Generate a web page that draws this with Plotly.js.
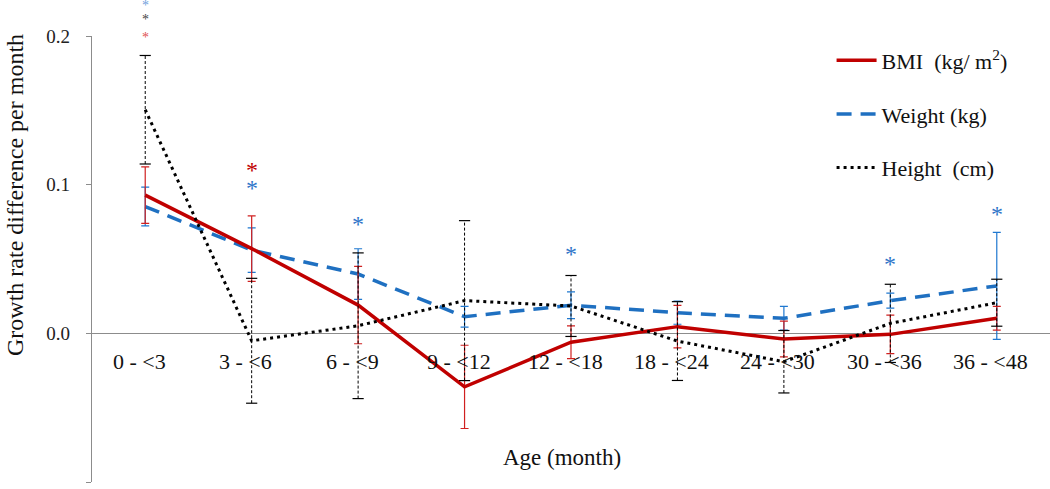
<!DOCTYPE html>
<html>
<head>
<meta charset="utf-8">
<script src="https://cdn.plot.ly/plotly-3.0.1.min.js"></script>
<style>html,body{margin:0;padding:0;background:#fff;}#chart{width:1050px;height:489px;}</style>
</head>
<body>
<div id="chart"></div>
<script>
// ---- data ----
const ageGroups = ['0 - <3', '3 - <6', '6 - <9', '9 - <12', '12 - <18', '18 - <24', '24 - <30', '30 - <36', '36 - <48'];
const bmiValues = [0.093, 0.057, 0.019, -0.036, -0.006, 0.0045, -0.0038, -0.0007, 0.0101];
const bmiErrors = [0.019, 0.022, 0.026, 0.028, 0.011, 0.0143, 0.012, 0.013, 0.008];
const weightValues = [0.0853, 0.056, 0.0399, 0.0112, 0.0189, 0.0139, 0.0101, 0.022, 0.0319];
const weightErrors = [0.013, 0.015, 0.017, 0.007, 0.009, 0.0078, 0.008, 0.005, 0.036];
const heightValues = [0.1504, -0.005, 0.0051, 0.022, 0.0184, -0.0052, -0.0191, 0.0067, 0.0206];
const heightErrors = [0.0365, 0.042, 0.049, 0.0538, 0.0205, 0.0265, 0.021, 0.0263, 0.0158];
const seriesNames = ['BMI&#160;&#160;(kg/ m<sup>2</sup>)', 'Weight&#160;(kg)', 'Height&#160;&#160;(cm)'];
const yTicks = [-0.1, 0.0, 0.1, 0.2];
const yRange = [-0.1, 0.2];
// significance asterisks
const sigCats = ['0 - <3', '0 - <3', '0 - <3', '3 - <6', '3 - <6', '6 - <9', '12 - <18', '30 - <36', '36 - <48'];
const sigY = [0.2203, 0.2113, 0.1993, 0.110, 0.098, 0.0736, 0.0534, 0.0467, 0.0804];
const sigColors = ['#6FA0DC', '#444444', '#E05050', '#C00000', '#2E75C8', '#2E75C8', '#2E75C8', '#2E75C8', '#2E75C8'];
const sigSizes = [14, 14, 14, 24, 24, 24, 24, 24, 24];

const FONT = 'Liberation Serif';
const RED = '#C00000', BLUE = '#1F70C1', BLACK = '#000000';

// black dashed error bars built from data
const hbX = [], hbY = [], capX = [], capY = [];
ageGroups.forEach((c, i) => {
  hbX.push(c, c, null);
  hbY.push(heightValues[i] - heightErrors[i], heightValues[i] + heightErrors[i], null);
  capX.push(c, c);
  capY.push(heightValues[i] - heightErrors[i], heightValues[i] + heightErrors[i]);
});

const traces = [
  {x: ageGroups, y: weightValues, type: 'scatter', mode: 'lines', name: seriesNames[1], legendgroup: 'w', legendrank: 2,
   line: {color: BLUE, width: 3.5, dash: '15px,9px'},
   error_y: {type: 'data', array: weightErrors, visible: true, color: '#1F78D0', thickness: 1.2, width: 4}},
  {x: ageGroups, y: bmiValues, type: 'scatter', mode: 'lines', name: seriesNames[0], legendgroup: 'b', legendrank: 1,
   line: {color: RED, width: 3.5},
   error_y: {type: 'data', array: bmiErrors, visible: true, color: '#D02020', thickness: 1.2, width: 4}},
  {x: hbX, y: hbY, type: 'scatter', mode: 'lines', showlegend: false, hoverinfo: 'skip',
   line: {color: BLACK, width: 1, dash: '3px,2px'}},
  {x: capX, y: capY, type: 'scatter', mode: 'markers', showlegend: false, hoverinfo: 'skip',
   marker: {symbol: 'line-ew', size: 8, line: {color: BLACK, width: 1.2}}},
  {x: ageGroups, y: heightValues, type: 'scatter', mode: 'lines', name: seriesNames[2], legendgroup: 'h', legendrank: 3,
   line: {color: BLACK, width: 3, dash: '3px,4px'}}
];

const L = 92, T = 36, W = 1050 - 92, H = 489 - 36 - 7;
const annotations = [];
ageGroups.forEach(c => annotations.push({
  x: c, y: 0, xref: 'x', yref: 'y', text: c, showarrow: false, yanchor: 'top', yshift: -14, xshift: -6,
  font: {family: FONT, size: 22, color: '#111'}
}));
sigCats.forEach((c, i) => annotations.push({
  x: c, y: (sigY[i] - yRange[0]) / (yRange[1] - yRange[0]), xref: 'x', yref: 'y domain', text: '*',
  showarrow: false, yanchor: 'middle',
  font: {family: FONT, size: sigSizes[i], color: sigColors[i]}
}));
annotations.push({x: (561.5 - L) / W, y: 1 - (457 - T) / H, xref: 'paper', yref: 'paper',
  xanchor: 'center', yanchor: 'middle', text: 'Age (month)', showarrow: false,
  font: {family: FONT, size: 23, color: '#111'}});
annotations.push({x: (15 - L) / W, y: 1 - (195 - T) / H, xref: 'paper', yref: 'paper',
  xanchor: 'center', yanchor: 'middle', text: 'Growth rate difference per month', showarrow: false,
  textangle: -90, font: {family: FONT, size: 24, color: '#111'}});

const layout = {
  width: 1050, height: 489,
  margin: {l: L, r: 0, t: T, b: 7},
  paper_bgcolor: '#fff', plot_bgcolor: '#fff',
  font: {family: FONT},
  showlegend: true,
  legend: {x: 0.772, y: 0.992, xanchor: 'left', yanchor: 'top', tracegroupgap: 22,
    font: {family: FONT, size: 22, color: '#111'}, bgcolor: 'rgba(0,0,0,0)', itemwidth: 40},
  xaxis: {type: 'category', range: [-0.5, 8.5], showticklabels: false, showline: false, showgrid: false,
    zeroline: false, ticks: ''},
  yaxis: {range: yRange, tickvals: yTicks, tickformat: '.1f', showline: true, linecolor: '#8c8c8c', linewidth: 1.2,
    ticks: 'outside', ticklen: 5, tickcolor: '#8c8c8c', showgrid: false, zeroline: true, zerolinecolor: '#8c8c8c',
    zerolinewidth: 1.2, ticklabelstandoff: 12, tickfont: {family: FONT, size: 19, color: '#222'}},
  annotations: annotations
};

Plotly.newPlot('chart', traces, layout, {displayModeBar: false, staticPlot: true});
</script>
</body>
</html>
